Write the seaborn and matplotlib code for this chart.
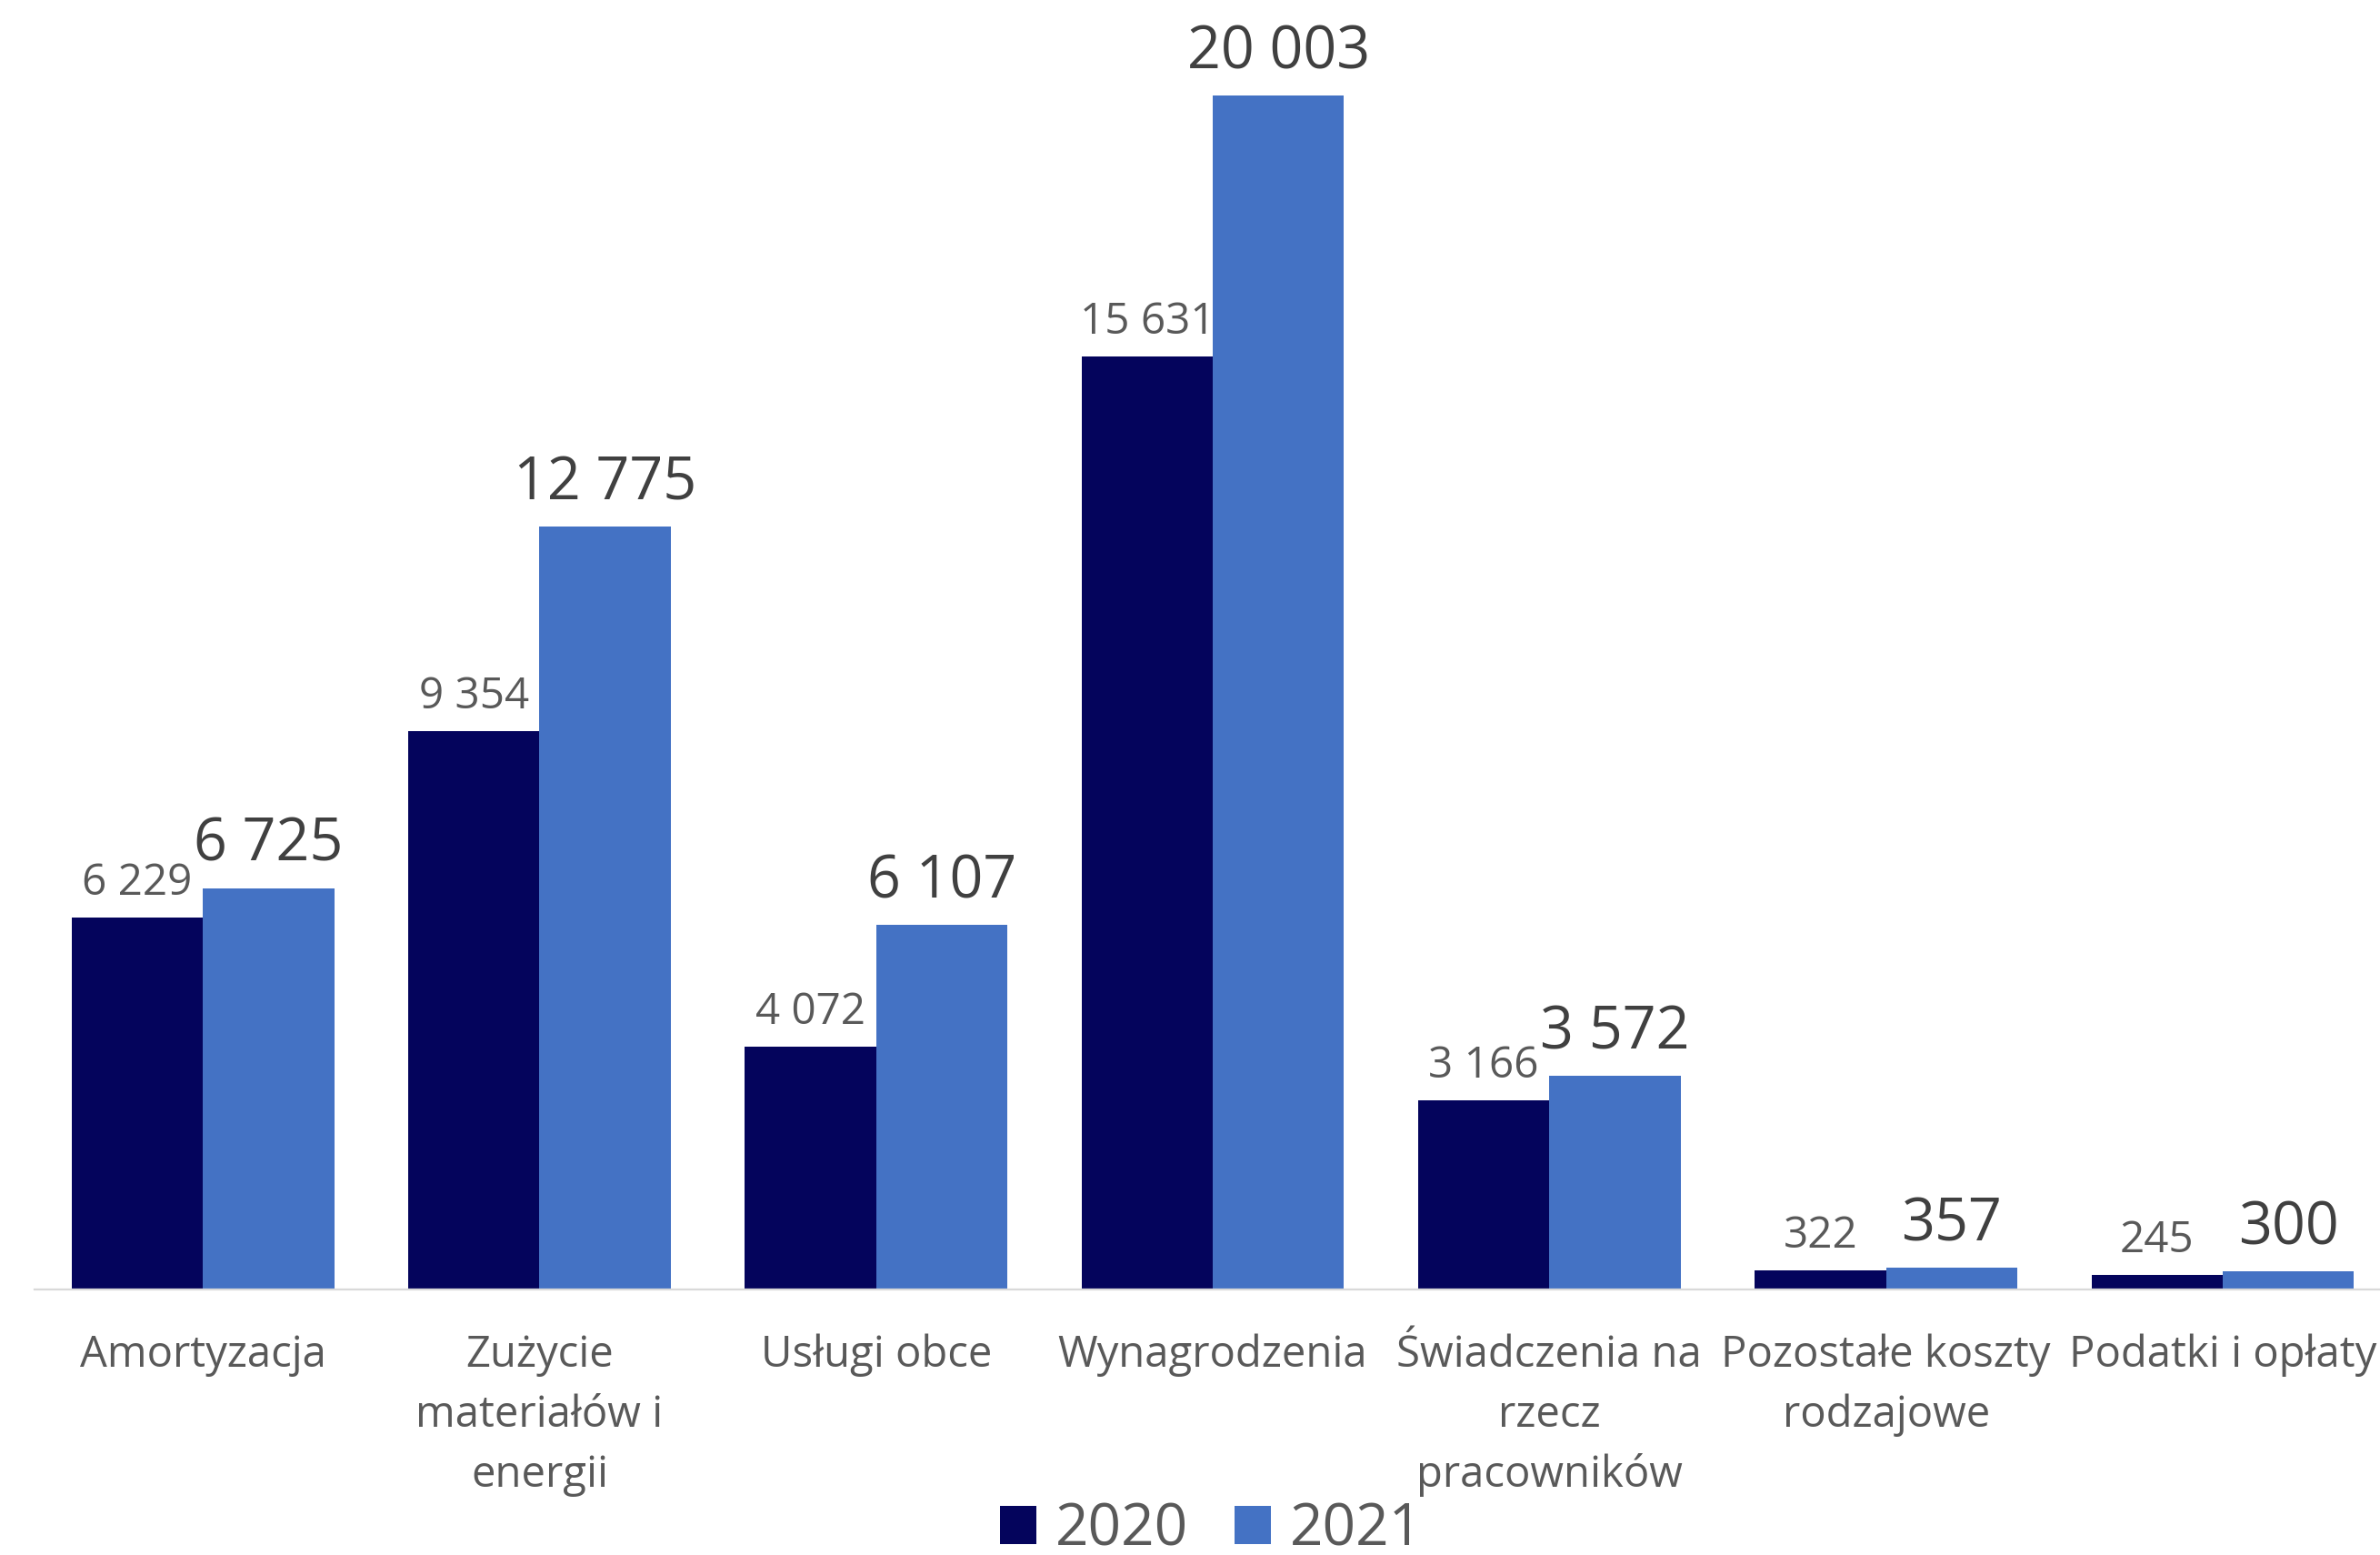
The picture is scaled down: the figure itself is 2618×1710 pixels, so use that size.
import matplotlib
matplotlib.use("Agg")
import matplotlib.pyplot as plt
import seaborn as sns
import pandas as pd

categories = ["Amortyzacja", "Zużycie\nmateriałów i\nenergii", "Usługi obce", "Wynagrodzenia",
              "Świadczenia na\nrzecz\npracowników", "Pozostałe koszty\nrodzajowe", "Podatki i opłaty"]
years = ["2020", "2021"]
values_2020 = [6229, 9354, 4072, 15631, 3166, 322, 245]
values_2021 = [6725, 12775, 6107, 20003, 3572, 357, 300]
colors = ["#04045C", "#4472C4"]

sns.set_theme(style="white")
plt.rcParams['font.family'] = ['Open Sans', 'DejaVu Sans']

df = pd.DataFrame({
    "kategoria": categories * 2,
    "rok": [years[0]] * len(categories) + [years[1]] * len(categories),
    "wartosc": values_2020 + values_2021,
})

fig = plt.figure(figsize=(26.18, 17.10), dpi=100)
ax = fig.add_axes([0.01452, 0.1708, 0.9901, 0.8292])

sns.barplot(data=df, x="kategoria", y="wartosc", hue="rok", palette=colors,
            width=0.78, gap=0, linewidth=0, saturation=1, errorbar=None, ax=ax)

ax.set_xlim(-0.5, 6.5)
ax.set_ylim(0, 21603)
ax.set_xlabel("")
ax.set_ylabel("")
ax.set_yticks([])
for s in ["left", "right", "top"]:
    ax.spines[s].set_visible(False)
ax.spines["bottom"].set_color("#D9D9D9")
ax.spines["bottom"].set_linewidth(1.6)
ax.tick_params(axis="x", length=0, pad=35, labelsize=34, labelcolor="#595959")
for t in ax.get_xticklabels():
    t.set_linespacing(1.5)
    t.set_ha("center")
    t.set_multialignment("center")

def fmt(v):
    return f"{v:,}".replace(",", " ")

label_styles = [(34.3, "#595959", 18), (46.5, "#404040", 21.6)]
for cont, (fs, col, off) in zip(ax.containers, label_styles):
    for bar in cont:
        h = bar.get_height()
        ax.annotate(fmt(int(round(h))), (bar.get_x() + bar.get_width() / 2, h),
                    xytext=(0, off), textcoords="offset points",
                    ha="center", va="baseline", fontsize=fs, color=col)

handles, labels = ax.get_legend_handles_labels()
if ax.legend_:
    ax.legend_.remove()
leg = fig.legend(handles, labels, loc="center", bbox_to_anchor=(0.509, 0.016),
                 ncol=2, frameon=False, fontsize=46, handlelength=0.62, handleheight=0.62,
                 handletextpad=0.33, columnspacing=0.8, borderpad=0, labelcolor="#595959")

fig.savefig("out.png", dpi=100)
